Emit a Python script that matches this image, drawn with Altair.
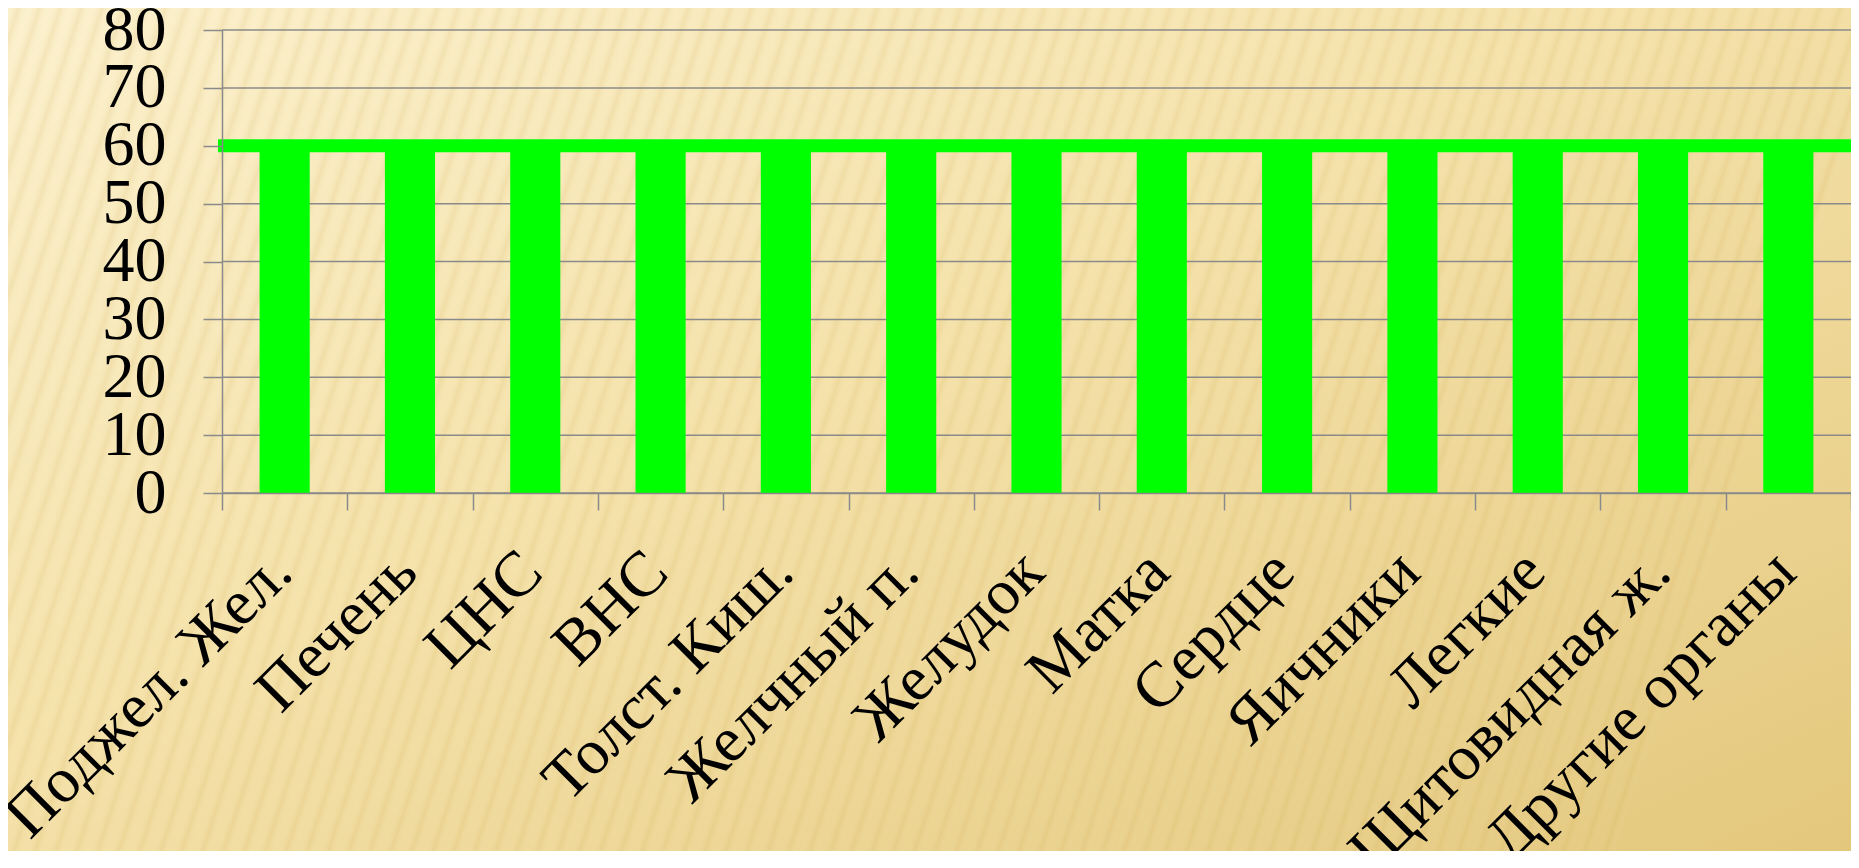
import altair as alt
import pandas as pd

# ---- data ----
categories = ["Поджел. Жел.", "Печень", "ЦНС", "ВНС", "Толст. Киш.", "Желчный п.",
              "Желудок", "Матка", "Сердце", "Яичники", "Легкие", "Щитовидная ж.",
              "Другие органы"]
values = [60, 60, 60, 60, 60, 60, 60, 60, 60, 60, 60, 60, 60]
line_value = [60]
y_ticks = [0, 10, 20, 30, 40, 50, 60, 70, 80]

# ---- layout ----
W, H = 1629, 463
PAD_L, PAD_T, PAD_R, PAD_B = 214, 22, 0, 358
FONT = "Liberation Serif"
FS = 64
GRAY = "#8a8a8a"
GREEN = "#00FF00"

bars_df = pd.DataFrame({"organ": categories, "value": values})
line_df = pd.DataFrame({"value": line_value})
grid_df = pd.DataFrame({"value": y_ticks})
bg_df = pd.DataFrame({"d": [0]})

x_enc = alt.X(
    "organ:N", sort=categories, title=None,
    scale=alt.Scale(paddingInner=0, paddingOuter=0),
    axis=alt.Axis(
        labelAngle=-45, labelAlign="right", labelBaseline="alphabetic",
        labelFont=FONT, labelFontSize=FS, labelColor="black",
        labelPadding=65, labelOffset=10, labelLimit=0,
        labelOverlap=False, labelBound=False, labelFlush=False,
        tickBand="extent", tickSize=17, tickColor=GRAY, tickWidth=1.5,
        domainColor=GRAY, domainWidth=1.5, grid=False, zindex=1,
    ),
)
y_enc = alt.Y(
    "value:Q", title=None,
    scale=alt.Scale(domain=[0, 80], nice=False),
    axis=alt.Axis(
        values=y_ticks, labelFont=FONT, labelFontSize=FS, labelColor="black",
        labelPadding=37, labelBaseline="middle", labelOverlap=False,
        labelBound=False, labelFlush=False,
        tickSize=19, tickColor=GRAY, tickWidth=1.5,
        domainColor=GRAY, domainWidth=1.5, grid=False, zindex=1,
    ),
)

bg_enc = dict(
    x=alt.value(-PAD_L), x2=alt.value(W + PAD_R),
    y=alt.value(-PAD_T), y2=alt.value(H + PAD_B),
)

background = alt.Chart(bg_df).mark_rect(
    clip=False,
    fill=alt.Gradient(
        gradient="linear",
        stops=[
            alt.GradientStop(offset=0, color="#FCF1CE"),
            alt.GradientStop(offset=0.45, color="#F5E2AA"),
            alt.GradientStop(offset=1, color="#E3C77C"),
        ],
        x1=0, y1=0, x2=1, y2=1,
    ),
).encode(**bg_enc)

# faint steep diagonal stripe texture of the slide background
stripe_stops = []
n_periods = 90
for i in range(n_periods):
    a = i / n_periods
    stripe_stops.append(alt.GradientStop(offset=a, color="rgba(255,250,230,0.0)"))
    stripe_stops.append(alt.GradientStop(offset=a + 0.5 / n_periods, color="rgba(205,170,80,0.16)"))
stripe_stops.append(alt.GradientStop(offset=1, color="rgba(255,250,230,0.0)"))

stripes = alt.Chart(bg_df).mark_rect(
    clip=False,
    fill=alt.Gradient(gradient="linear", stops=stripe_stops, x1=0, y1=0, x2=1, y2=0.15),
).encode(**bg_enc)

grid = alt.Chart(grid_df).mark_rule(color=GRAY, strokeWidth=1.5).encode(
    y=alt.Y("value:Q"), x=alt.value(0), x2=alt.value(W)
)

bars = alt.Chart(bars_df).mark_bar(color=GREEN, width={"band": 0.4}).encode(
    x=x_enc, y=y_enc
)

line = alt.Chart(line_df).mark_rule(color=GREEN, strokeWidth=13, clip=False).encode(
    y=alt.Y("value:Q"), x=alt.value(-4), x2=alt.value(W + 10)
)

chart = alt.layer(background, stripes, grid, bars, line).properties(
    width=W, height=H,
    autosize=alt.AutoSizeParams(type="none"),
    padding={"left": PAD_L, "top": PAD_T, "right": PAD_R, "bottom": PAD_B},
).configure_view(stroke=None)

chart.save("out.html", embed_options={"renderer": "svg", "actions": False})
